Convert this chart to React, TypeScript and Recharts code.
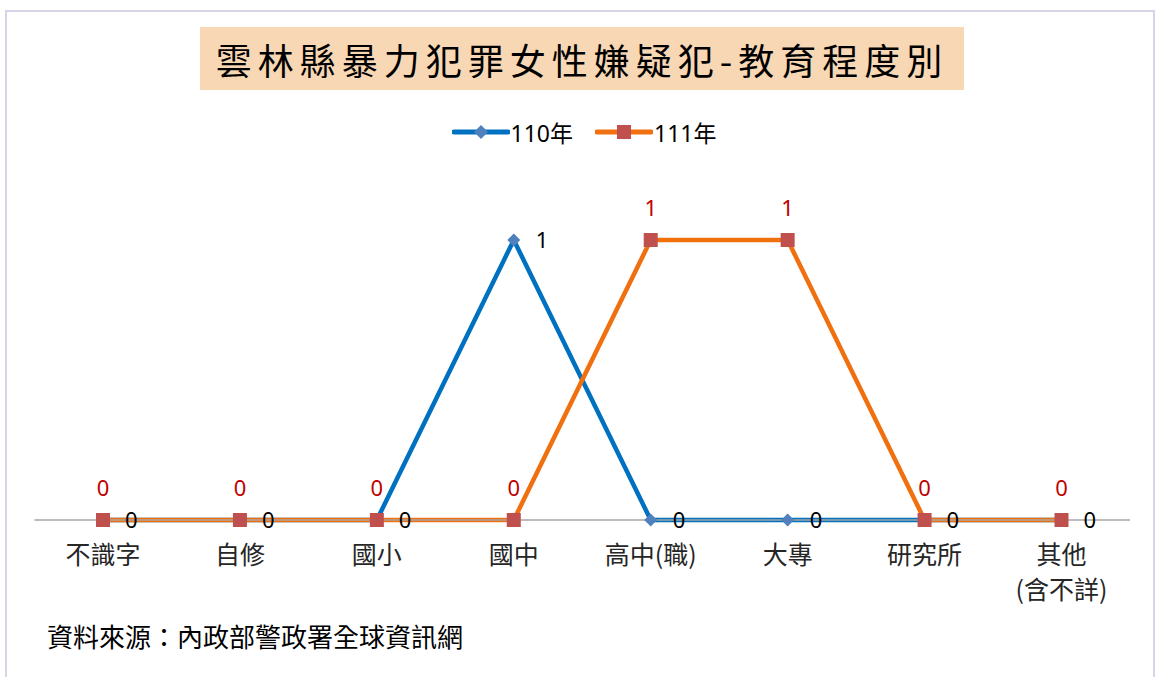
import React from "react";
import { LineChart, Line, XAxis, YAxis, LabelList } from "recharts";

const categories = ["不識字", "自修", "國小", "國中", "高中(職)", "大專", "研究所", "其他\n(含不詳)"];
const y110 = [0, 0, 0, 1, 0, 0, 0, 0];
const y111 = [0, 0, 0, 0, 1, 1, 0, 0];

const data = categories.map((name, i) => ({ name, y110: y110[i], y111: y111[i] }));

const CJK = "'Noto Sans CJK TC', 'Noto Sans', sans-serif";
const NUM = "'Noto Sans', 'Noto Sans CJK TC', sans-serif";

const BLUE = "#0070c0";
const ORANGE = "#f0700f";
const DIAMOND = "#4f81bd";
const SQUARE = "#c0504d";

function Diamond(props: any) {
  const { cx, cy } = props;
  if (cx == null || cy == null) return null;
  const r = 6.5;
  return (
    <path
      key={`d-${cx}`}
      d={`M${cx},${cy - r} L${cx + r},${cy} L${cx},${cy + r} L${cx - r},${cy} Z`}
      fill={DIAMOND}
    />
  );
}

function Square(props: any) {
  const { cx, cy } = props;
  if (cx == null || cy == null) return null;
  const s = 7;
  return <rect key={`s-${cx}`} x={cx - s} y={cy - s} width={s * 2} height={s * 2} fill={SQUARE} />;
}

function CatTick(props: any) {
  const { x, y, payload } = props;
  const lines = String(payload.value).split("\n");
  return (
    <text x={x} y={y} textAnchor="middle" fill="#262626" fontSize={25} fontFamily={CJK}>
      {lines.map((l, i) => (
        <tspan key={i} x={x} dy={i === 0 ? 44 : 35}>
          {l}
        </tspan>
      ))}
    </text>
  );
}

function LegendItem({ color, label, square }: { color: string; label: string; square: boolean }) {
  return (
    <div style={{ display: "flex", alignItems: "center", marginRight: 22 }}>
      <svg width={58} height={20}>
        <line x1={2} y1={10} x2={56} y2={10} stroke={color} strokeWidth={5} strokeLinecap="round" />
        {square ? (
          <rect x={22} y={3} width={14} height={14} fill={SQUARE} />
        ) : (
          <path d="M29,3 L36,10 L29,17 L22,10 Z" fill={DIAMOND} />
        )}
      </svg>
      <span style={{ fontFamily: NUM, fontSize: 23, color: "#000", marginLeft: 1 }}>{label}</span>
    </div>
  );
}

export default function App() {
  return (
    <div style={{ position: "absolute", left: 0, top: 0, width: 1160, height: 677, overflow: "hidden", background: "#fff" }}>
      <div
        style={{
          position: "absolute",
          left: 5,
          top: 10,
          width: 1150,
          height: 700,
          border: "2px solid #d9d3e8",
          boxSizing: "border-box",
        }}
      />
      <div
        style={{
          position: "absolute",
          left: 200,
          top: 27,
          width: 764,
          height: 63,
          background: "#f8d7b4",
          display: "flex",
          alignItems: "center",
          justifyContent: "center",
          fontFamily: CJK,
          fontSize: 36,
          letterSpacing: 6,
          color: "#000",
          whiteSpace: "nowrap",
        }}
      >
        雲林縣暴力犯罪女性嫌疑犯-教育程度別
      </div>
      <div
        style={{
          position: "absolute",
          left: 0,
          top: 115,
          width: 1160,
          display: "flex",
          justifyContent: "center",
          paddingLeft: 30,
          boxSizing: "border-box",
        }}
      >
        <LegendItem color={BLUE} label="110年" square={false} />
        <LegendItem color={ORANGE} label="111年" square={true} />
      </div>
      <div style={{ position: "absolute", left: 0, top: 0 }}>
        <LineChart
          width={1160}
          height={677}
          data={data}
          margin={{ top: 184, right: 30, bottom: 97, left: 34.5 }}
        >
          <XAxis
            dataKey="name"
            interval={0}
            height={60}
            padding={{ left: 68.5, right: 68.5 }}
            tickLine={false}
            tickSize={0}
            tickMargin={0}
            axisLine={{ stroke: "#a6a6a6", strokeWidth: 1.5 }}
            tick={<CatTick />}
          />
          <YAxis hide width={0} domain={[0, 1.2]} />
          <Line
            type="linear"
            dataKey="y110"
            stroke={BLUE}
            strokeWidth={4.5}
            dot={<Diamond />}
            activeDot={false}
            isAnimationActive={false}
          >
            <LabelList dataKey="y110" position="right" offset={22} fill="#000" fontSize={22} fontFamily={NUM} />
          </Line>
          <Line
            type="linear"
            dataKey="y111"
            stroke={ORANGE}
            strokeWidth={4.5}
            dot={<Square />}
            activeDot={false}
            isAnimationActive={false}
          >
            <LabelList dataKey="y111" position="top" offset={24} fill="#c00000" fontSize={22} fontFamily={NUM} />
          </Line>
        </LineChart>
      </div>
      <div
        style={{
          position: "absolute",
          left: 47,
          top: 617,
          fontFamily: CJK,
          fontSize: 26,
          color: "#000",
          whiteSpace: "nowrap",
        }}
      >
        資料來源：內政部警政署全球資訊網
      </div>
    </div>
  );
}
